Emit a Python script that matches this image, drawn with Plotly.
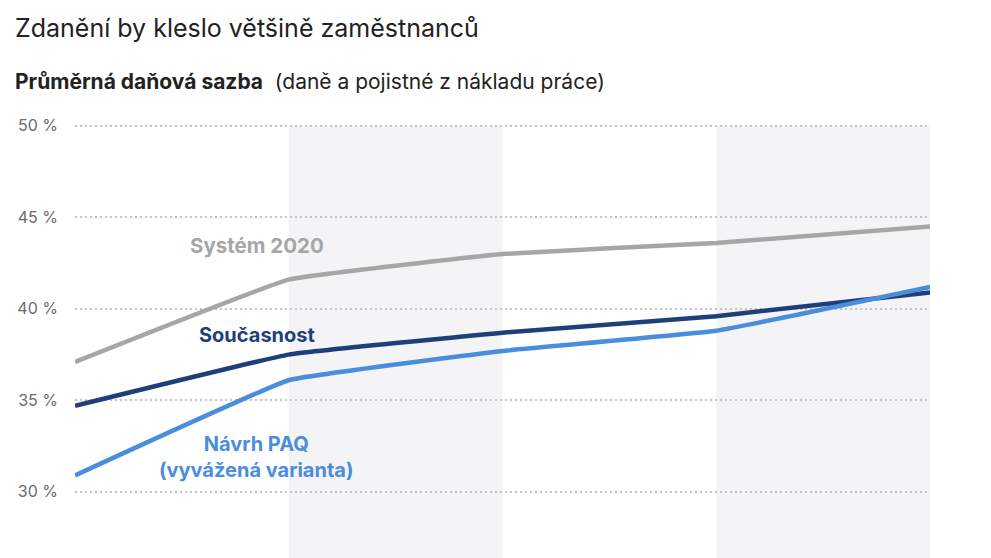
import plotly.graph_objects as go

# data
x_pos = [0, 1, 2, 3, 4]
system_2020 = [37.1, 41.6, 43.0, 43.6, 44.5]
soucasnost = [34.7, 37.5, 38.7, 39.6, 40.9]
navrh_paq = [30.9, 36.1, 37.7, 38.8, 41.2]
y_ticks = [30, 35, 40, 45, 50]
y_tick_labels = ["30 %", "35 %", "40 %", "45 %", "50 %"]

GRAY = "#a6a6a6"
DARK = "#1e3f7a"
LIGHT = "#4a8ddc"
FONT = "Inter"

Y_MIN, Y_MAX = 25.95, 50.1
PLOT_TOP = 124   # page pixel row of the top of the plot area
PLOT_H = 442


def paper_y(px):
    # page pixel row -> paper coordinate
    return 1 + (PLOT_TOP - px) / PLOT_H


fig = go.Figure()

# shaded columns
for x0 in (1, 3):
    fig.add_shape(type="rect", xref="x", yref="y", x0=x0, x1=x0 + 1,
                  y0=Y_MIN, y1=y_ticks[-1], fillcolor="#f4f4f6", line_width=0,
                  layer="below")

series = [
    (system_2020, GRAY),
    (soucasnost, DARK),
    (navrh_paq, LIGHT),
]
for vals, color in series:
    fig.add_trace(go.Scatter(
        x=x_pos, y=vals, mode="lines",
        line=dict(color=color, width=4.5, shape="spline", smoothing=0.25),
        hoverinfo="skip", showlegend=False,
    ))

# line labels
fig.add_annotation(x=0.85, y=43.45, text="<b>Systém 2020</b>", showarrow=False,
                   font=dict(family=FONT, size=20.5, color=GRAY))
fig.add_annotation(x=0.85, y=38.55, text="<b>Současnost</b>", showarrow=False,
                   font=dict(family=FONT, size=20, color=DARK))
fig.add_annotation(x=0.85, y=31.9, text="<b>Návrh PAQ<br>(vyvážená varianta)</b>",
                   showarrow=False,
                   font=dict(family=FONT, size=20, color=LIGHT))

# title and subtitle (placed in the top margin)
fig.add_annotation(xref="paper", yref="paper", x=-62 / 855, y=paper_y(28),
                   xanchor="left", yanchor="middle", showarrow=False,
                   text="Zdanění by kleslo většině zaměstnanců",
                   font=dict(family=FONT, size=25, color="#222222"))
fig.add_annotation(xref="paper", yref="paper", x=-62 / 855, y=paper_y(82),
                   xanchor="left", yanchor="middle", showarrow=False,
                   text="<b>Průměrná daňová sazba</b>  (daně a pojistné z nákladu práce)",
                   font=dict(family=FONT, size=21, color="#222222"))

fig.update_layout(
    width=991, height=558,
    margin=dict(l=67, r=69, t=116, b=0),
    paper_bgcolor="white", plot_bgcolor="white",
    xaxis=dict(range=[0, 4], showgrid=False, zeroline=False,
               showticklabels=False, showline=False, fixedrange=True),
    yaxis=dict(range=[Y_MIN, Y_MAX], tickvals=y_ticks, ticktext=y_tick_labels,
               showgrid=True, gridcolor="#c4c4c4", gridwidth=1.5,
               griddash="2px,3px", zeroline=False, showline=False,
               ticks="", ticklabelstandoff=16,
               tickfont=dict(family=FONT, size=16, color="#6b6b6b")),
)

fig.write_html("out.html")
